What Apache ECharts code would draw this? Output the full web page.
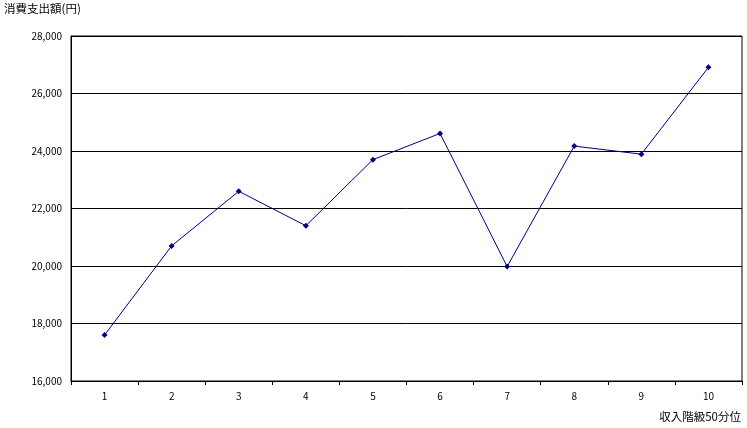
<!DOCTYPE html>
<html><head><meta charset="utf-8">
<script src="https://cdn.jsdelivr.net/npm/echarts@6/dist/echarts.min.js"></script>
<style>html,body{margin:0;padding:0;background:#fff}#c{width:747px;height:428px}</style>
</head><body><div id="c"></div>
<script>
const categories = ['1','2','3','4','5','6','7','8','9','10'];
const spending = [17600, 20700, 22600, 21400, 23700, 24610, 19980, 24170, 23890, 26910];
const yTitle = '消費支出額(円)';
const xTitle = '収入階級50分位';
const FONT = '"Noto Sans CJK JP", sans-serif';
const chart = echarts.init(document.getElementById('c'), null, {renderer:'canvas'});
chart.setOption({
  animation:false,
  backgroundColor:'#fff',
  title:[
    {text:yTitle, left:4, top:3, padding:0, textStyle:{fontFamily:FONT, fontSize:11.5, fontWeight:'normal', color:'#000'}},
    {text:xTitle, right:6, top:411, padding:0, textStyle:{fontFamily:FONT, fontSize:11.5, fontWeight:'normal', color:'#000'}}
  ],
  grid:{left:71, right:5, top:36, bottom:47, show:true, borderColor:'#000', borderWidth:1},
  xAxis:{type:'category', data:categories, boundaryGap:true,
    axisLine:{lineStyle:{color:'#000', width:1}},
    axisTick:{show:true, length:4, lineStyle:{color:'#000'}},
    axisLabel:{fontFamily:FONT, fontSize:10, color:'#000', margin:10}
  },
  yAxis:{type:'value', min:16000, max:28000, interval:2000,
    axisLine:{show:true, lineStyle:{color:'#000', width:1}},
    axisTick:{show:false},
    splitLine:{show:true, lineStyle:{color:'#000', width:1}},
    axisLabel:{fontFamily:FONT, fontSize:10, color:'#000', margin:9,
      formatter:v=>v.toLocaleString('en-US')}
  },
  series:[{type:'line', data:spending, symbol:'diamond', symbolSize:6,
    lineStyle:{color:'#000080', width:1}, itemStyle:{color:'#000080'}}]
});
</script></body></html>
